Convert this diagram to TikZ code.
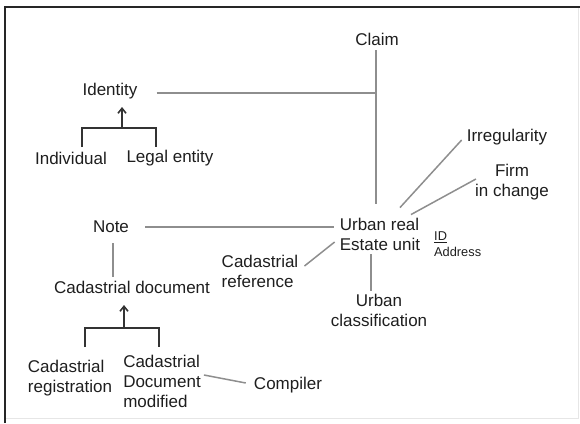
\documentclass[tikz,border=0pt]{standalone}
\usepackage{fontspec}
\setmainfont{Liberation Sans}
\usetikzlibrary{calc,arrows.meta}
\definecolor{ink}{HTML}{1E1E1E}
\definecolor{linkgray}{HTML}{8E8E8E}
\definecolor{treeink}{HTML}{333333}
\definecolor{framegray}{HTML}{E6E6E6}
\begin{document}
\begin{tikzpicture}[x=1pt,y=-1pt,
  lbl/.style={inner sep=0pt,text=ink,font=\fontsize{17}{20}\selectfont},
  small/.style={inner sep=0pt,text=ink,font=\fontsize{12.8}{16}\selectfont},
  link/.style={draw=linkgray,line width=1.5pt},
  tree/.style={draw=treeink,line width=1.6pt},
  up/.style={tree,-{Straight Barb[length=5pt,width=8pt]}}]
\useasboundingbox (0,0) rectangle (580,423);
% frame
\draw[framegray,line width=1pt] (578,7) -- (578,418) -- (5,418);
\draw[black!85,line width=1.6pt] (5,423) -- (5,7) -- (580,7);

% entities
\node[lbl] (claim) at (377,39) {Claim};
\node[lbl] (identity) at (110,91) {Identity};
\node[lbl] (indiv) at (71,158) {Individual};
\node[lbl] (legal) at (170,158) {Legal entity};
\node[lbl] (irreg) at (507,137) {Irregularity};
\node[lbl,align=center] (firm) at (512,182) {Firm\\in change};
\node[lbl,align=left] (unit) at (380,234) {Urban real\\Estate unit};
\node[small,align=left,anchor=west] (attr) at (434,244) {\underline{ID}\\Address};
\node[lbl] (note) at (111,227) {Note};
\node[lbl] (caddoc) at (132,287) {Cadastrial document};
\node[lbl,align=left] (cadref) at (260,271) {Cadastrial\\reference};
\node[lbl,align=center] (urbclass) at (379,310) {Urban\\classification};
\node[lbl,align=left] (cadreg) at (70,378) {Cadastrial\\registration};
\node[lbl,align=left] (cadmod) at (162,381) {Cadastrial\\Document\\modified};
\node[lbl] (compiler) at (288,385) {Compiler};

% associations
\coordinate (top) at ($(claim.south)+(-1,5)$);
\draw[link] (top) -- ($(top |- unit.north)+(0,-14)$);
\coordinate (idstart) at ($(identity.east)+(19,2)$);
\draw[link] (idstart) -- (idstart -| top);
\draw[link] ($(unit.north)+(20,-10)$) -- ($(irreg.west)+(-5,3)$);
\draw[link] ($(unit.north)+(31,-3)$) -- ($(firm.west)+(1,-3)$);
\draw[link] ($(note.east)+(16,0)$) -- ($(note.east -| unit.west)+(-6,0)$);
\draw[link] ($(note.south)+(2,10)$) -- ($(caddoc.north -| note.south)+(2,-4)$);
\draw[link] ($(cadref.east)+(6,-5)$) -- ($(unit.west)+(-5,8)$);
\draw[link] ($(unit.south)+(-9,4)$) -- ($(urbclass.north)+(-8,-3)$);
\draw[link] ($(cadmod.east)+(3,-6)$) -- ($(compiler.west)+(-8,-2)$);

% generalisations
\coordinate (idL) at (82,147);
\coordinate (idR) at (156,147);
\coordinate (idM) at (122,128);
\coordinate (idT) at (122,107);
\draw[tree] (idL) -- (idL |- idM) -- (idR |- idM) -- (idR);
\draw[up] (idM) -- (idT);

\coordinate (cdL) at (85,347);
\coordinate (cdR) at (159,347);
\coordinate (cdM) at (124,328);
\coordinate (cdT) at (124,305);
\draw[tree] (cdL) -- (cdL |- cdM) -- (cdR |- cdM) -- (cdR);
\draw[up] (cdM) -- (cdT);
\end{tikzpicture}
\end{document}
